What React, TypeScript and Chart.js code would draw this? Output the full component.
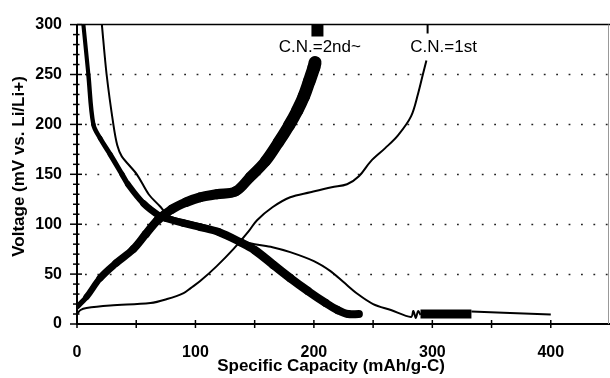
import React, { useEffect, useRef } from 'react';
import { Chart, registerables } from 'chart.js';

Chart.register(...registerables);

// ---- axis ticks ----
const X_TICKS = [0, 100, 200, 300, 400];
const X_MINOR = [50, 150, 250, 350];
const Y_TICKS = [0, 50, 100, 150, 200, 250, 300];
const Y_GRID = [50, 100, 150, 200, 250];

// ---- C.N.=2nd~ discharge (thick) ----
const D2_X = [5.4, 9.6, 13.8, 19.6, 28, 38, 43, 56, 70, 75, 90, 104, 120, 138, 150, 166, 180, 195, 210, 220, 229, 238];
const D2_Y = [300, 250, 200, 186, 170, 150, 140, 121, 108, 106, 101, 97, 92, 82, 74, 59, 46, 33, 21, 14, 10, 10];

// ---- C.N.=2nd~ charge (thick) ----
const C2_X = [0, 8, 19.5, 33, 47.5, 58, 68, 80, 92, 104, 118, 134, 146, 159, 170, 179, 186, 191.5, 196, 200, 201];
const C2_Y = [17, 27, 46, 61, 75, 90, 104, 115, 122, 127, 130, 133, 147, 163, 182, 199, 214, 228, 243, 257, 262];
const C2_TOP_X = [203, 203];
const C2_TOP_Y = [288, 300];

// ---- C.N.=1st discharge (thin) ----
const D1_X = [21, 25, 30.7, 34, 37.8, 50.5, 60.5, 70, 78, 90, 110, 125, 140, 150, 165, 180, 200, 214, 225, 237, 250, 265, 282, 284, 286, 288, 290];
const D1_Y = [300, 250, 200, 179, 168, 150, 130, 118, 108, 104, 98, 90, 83, 80, 77, 72, 63, 53, 42, 30, 20, 14, 7, 13, 6, 13, 9];
const D1_BAND_X = [290, 333];
const D1_BAND_Y = [10, 10];
const D1_TAIL_X = [333, 360, 400];
const D1_TAIL_Y = [12.5, 11.3, 9.5];

// ---- C.N.=1st charge (thin) ----
const C1_X = [0, 3, 8, 28, 62, 76, 90, 96, 104, 118, 132, 145, 152, 165, 180, 197, 215, 228, 238, 248, 260, 271, 282, 288, 292, 295, 295.5, 296, 296];
const C1_Y = [10, 14, 16, 18.5, 21, 25, 31, 36, 43, 58, 75, 93, 104, 117, 127, 132, 137, 140, 148, 163, 176, 189, 208, 231, 250, 264, null, 291, 300];

// ---- line-width profiles of the thick bands (style, by voltage) ----
const D2_W_AT = [0, 10, 60, 100, 140, 200, 300];
const D2_W = [8, 8, 9, 7.5, 5.5, 4.5, 4];
const C2_W_AT = [0, 17, 46, 100, 130, 200, 260, 300];
const C2_W = [5, 5, 7, 8.5, 10, 12, 13, 13];

// ---- annotations ----
const LABELS = [
  { text: 'C.N.=2nd~', x: 205, y: 277.5 },
  { text: 'C.N.=1st', x: 309.5, y: 277.5 },
];

const X_TITLE = 'Specific Capacity (mAh/g-C)';
const Y_TITLE = 'Voltage (mV vs. Li/Li+)';

const FONT = '"Liberation Sans", Arial, Helvetica, sans-serif';

const pts = (xs: number[], ys: (number | null)[]) => xs.map((x, i) => ({ x, y: ys[i] }));

const interp = (at: number[], w: number[], v: number) => {
  if (v <= at[0]) return w[0];
  for (let i = 1; i < at.length; i++) {
    if (v <= at[i]) {
      const t = (v - at[i - 1]) / (at[i] - at[i - 1]);
      return w[i - 1] + t * (w[i] - w[i - 1]);
    }
  }
  return w[w.length - 1];
};

const widthBy = (at: number[], w: number[]) => (c: any) =>
  interp(at, w, (c.p0.parsed.y + c.p1.parsed.y) / 2);

const decorPlugin = {
  id: 'decor',
  beforeDatasetsDraw(chart: any) {
    const { ctx, chartArea, scales } = chart;
    const ys = scales.y;
    ctx.save();
    ctx.strokeStyle = '#222';
    ctx.lineWidth = 1.6;
    ctx.setLineDash([1.8, 10.6]);
    Y_GRID.forEach((v) => {
      const py = Math.round(ys.getPixelForValue(v)) + 0.5;
      ctx.beginPath();
      ctx.moveTo(chartArea.left + 8, py);
      ctx.lineTo(chartArea.right, py);
      ctx.stroke();
    });
    ctx.restore();
  },
  afterDatasetsDraw(chart: any) {
    const { ctx, chartArea, scales } = chart;
    const xs = scales.x;
    const ys = scales.y;
    const { left, right, top, bottom } = chartArea;
    ctx.save();
    ctx.setLineDash([]);
    ctx.strokeStyle = '#000';
    // frame
    ctx.lineWidth = 2;
    ctx.beginPath();
    ctx.moveTo(left, top);
    ctx.lineTo(left, bottom);
    ctx.lineTo(right, bottom);
    ctx.stroke();
    ctx.lineWidth = 1.5;
    ctx.beginPath();
    ctx.moveTo(left, top);
    ctx.lineTo(right, top);
    ctx.stroke();
    ctx.strokeStyle = '#999';
    ctx.lineWidth = 1;
    ctx.beginPath();
    ctx.moveTo(right - 1.5, top);
    ctx.lineTo(right - 1.5, bottom);
    ctx.stroke();
    // y ticks
    ctx.strokeStyle = '#000';
    ctx.lineWidth = 1.5;
    for (let v = 0; v <= 300; v += 10) {
      const py = ys.getPixelForValue(v);
      const major = v % 50 === 0;
      ctx.beginPath();
      ctx.moveTo(left - (major ? 7 : 4), py);
      ctx.lineTo(left + (major ? 5 : 2.5), py);
      ctx.stroke();
    }
    // x ticks
    [...X_TICKS, ...X_MINOR].forEach((v) => {
      const px = xs.getPixelForValue(v);
      ctx.beginPath();
      ctx.moveTo(px, bottom - 4);
      ctx.lineTo(px, bottom + 4);
      ctx.stroke();
    });
    // curve labels
    ctx.fillStyle = '#000';
    ctx.font = `17px ${FONT}`;
    ctx.textAlign = 'center';
    ctx.textBaseline = 'middle';
    LABELS.forEach((l) => {
      ctx.fillText(l.text, xs.getPixelForValue(l.x), ys.getPixelForValue(l.y));
    });
    // axis titles
    ctx.font = `bold 17px ${FONT}`;
    ctx.textBaseline = 'alphabetic';
    ctx.fillText(X_TITLE, 331, 371);
    ctx.translate(24, 166.5);
    ctx.rotate(-Math.PI / 2);
    ctx.fillText(Y_TITLE, 0, 0);
    ctx.restore();
  },
};

export default function App() {
  const ref = useRef<HTMLCanvasElement>(null);
  useEffect(() => {
    if (!ref.current) return;
    const base = {
      pointRadius: 0,
      borderColor: '#000',
      backgroundColor: '#000',
      fill: false,
      tension: 0.35,
      spanGaps: false,
      borderJoinStyle: 'round' as const,
    };
    const chart = new Chart(ref.current, {
      type: 'line',
      data: {
        datasets: [
          {
            ...base,
            label: 'D2',
            data: pts(D2_X, D2_Y),
            borderWidth: 8,
            borderCapStyle: 'round',
            segment: { borderWidth: widthBy(D2_W_AT, D2_W) },
          },
          {
            ...base,
            label: 'C2',
            data: pts(C2_X, C2_Y),
            borderWidth: 10,
            borderCapStyle: 'round',
            segment: { borderWidth: widthBy(C2_W_AT, C2_W) },
          },
          {
            ...base,
            label: 'C2top',
            data: pts(C2_TOP_X, C2_TOP_Y),
            borderWidth: 12,
            borderCapStyle: 'butt',
            tension: 0,
          },
          { ...base, label: 'D1', data: pts(D1_X, D1_Y), borderWidth: 2, tension: 0.3 },
          { ...base, label: 'D1b', data: pts(D1_BAND_X, D1_BAND_Y), borderWidth: 9, tension: 0 },
          { ...base, label: 'D1t', data: pts(D1_TAIL_X, D1_TAIL_Y), borderWidth: 2, tension: 0 },
          { ...base, label: 'C1', data: pts(C1_X, C1_Y), borderWidth: 2 },
        ] as any,
      },
      options: {
        animation: false,
        responsive: false,
        maintainAspectRatio: false,
        layout: { padding: { top: 17, right: 0, left: 0, bottom: 0 } },
        plugins: { legend: { display: false }, tooltip: { enabled: false } },
        scales: {
          x: {
            type: 'linear',
            min: 0,
            max: 450,
            afterFit: (s: any) => { s.height = 54; },
            afterBuildTicks: (s: any) => { s.ticks = X_TICKS.map((v) => ({ value: v })); },
            grid: { display: false, drawTicks: false },
            border: { display: false },
            ticks: {
              color: '#000',
              padding: 19,
              maxRotation: 0,
              font: { family: FONT, size: 16, weight: 'bold' },
            },
          },
          y: {
            type: 'linear',
            min: 0,
            max: 300,
            afterFit: (s: any) => { s.width = 77; },
            afterBuildTicks: (s: any) => { s.ticks = Y_TICKS.map((v) => ({ value: v })); },
            grid: { display: false, drawTicks: false },
            border: { display: false },
            ticks: {
              color: '#000',
              padding: 15,
              font: { family: FONT, size: 16, weight: 'bold' },
            },
          },
        },
      },
      plugins: [decorPlugin],
    });
    return () => chart.destroy();
  }, []);
  return (
    <div style={{ position: 'fixed', left: 0, top: 0, width: 610, height: 378, background: '#fff' }}>
      <canvas ref={ref} width={610} height={378} style={{ display: 'block' }} />
    </div>
  );
}
